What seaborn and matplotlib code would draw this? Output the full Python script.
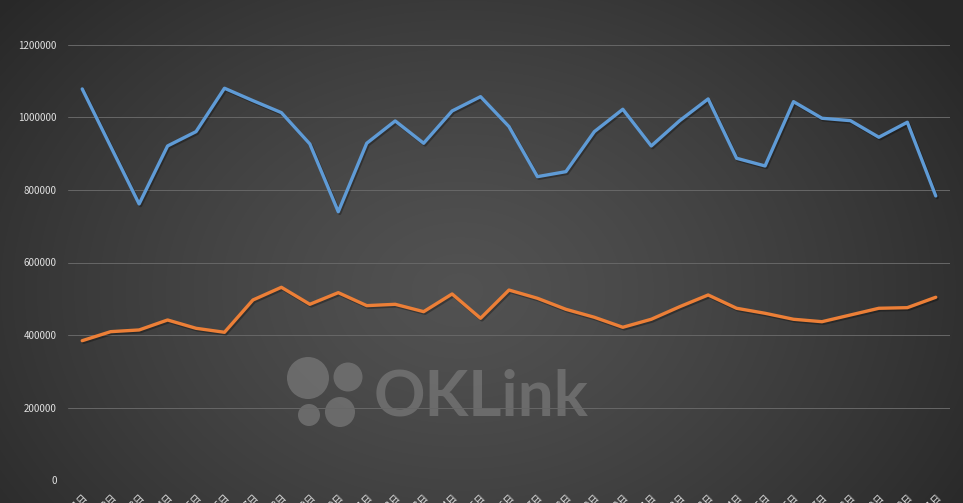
import numpy as np, pandas as pd
import matplotlib
matplotlib.use("Agg")
import matplotlib.pyplot as plt
import matplotlib.patheffects as pe
from matplotlib.patches import Circle
import seaborn as sns

# data
days = [f"1月{i}日" for i in range(1, 32)]
blue_vals = [1078800, 920000, 761500, 921500, 961000, 1080700, 1046500, 1013400, 927000, 740000,
             929000, 990500, 929000, 1018000, 1057500, 974800, 836800, 850600, 961000, 1022700,
             921500, 991300, 1051200, 887500, 866300, 1043700, 997900, 991300, 945500, 986900,
             783600]
orange_vals = [384300, 409200, 413900, 441400, 418500, 407500, 496600, 531600, 484700, 516800,
               481000, 484700, 464400, 513200, 446100, 524000, 501300, 470900, 448900, 421300,
               443400, 478100, 510400, 473700, 459900, 443400, 436700, 455200, 473700, 475400,
               504100]
y_ticks = [0, 200000, 400000, 600000, 800000, 1000000, 1200000]

df = pd.DataFrame({"day": days * 2,
                   "pos": list(range(31)) * 2,
                   "value": blue_vals + orange_vals,
                   "series": ["blue"] * 31 + ["orange"] * 31})

sns.set_style("dark")
plt.rcParams['font.family'] = ['Noto Sans CJK SC', 'DejaVu Sans']

W, H = 963, 503
fig = plt.figure(figsize=(W / 100, H / 100), dpi=100)

# background: radial grey gradient + watermark
bg = fig.add_axes([0, 0, 1, 1], zorder=0)
yy, xx = np.mgrid[0:H, 0:W]
r = np.sqrt(((xx - 460) / 560.0) ** 2 + ((yy - 290) / 420.0) ** 2)
shade = np.clip(0.32 - 0.15 * r ** 1.3, 0.16, 0.34)
bg.imshow(np.dstack([shade] * 3), extent=(0, W, H, 0), aspect="auto")
bg.set_xlim(0, W)
bg.set_ylim(H, 0)
bg.axis("off")
wm = "#777777"
for cx, cy, rr in [(308, 378, 21), (348, 377, 14.5), (309, 415, 11), (340, 412, 15)]:
    bg.add_patch(Circle((cx, cy), rr, color=wm, alpha=0.75, lw=0))
bg.text(374, 415, "OKLink", color=wm, alpha=0.75, fontsize=46, fontweight="bold",
        family="Lato", va="baseline", ha="left")

ax = fig.add_axes([68 / W, 1 - 480 / H, (950 - 68) / W, (480 - 45) / H], zorder=1)
ax.set_facecolor("none")
palette = {"blue": "#5f9bd6", "orange": "#ec7f37"}
sns.lineplot(data=df, x="pos", y="value", hue="series", palette=palette, ax=ax,
             linewidth=2.4, legend=False)
for ln in ax.lines:
    ln.set_path_effects([pe.SimpleLineShadow(offset=(1, -1.2), shadow_color="black", alpha=0.3),
                         pe.Normal()])

ax.set_xlim(-0.5, 30.5)
ax.set_ylim(0, 1200000)
ax.set_yticks(y_ticks)
ax.set_yticklabels([str(v) for v in y_ticks])
ax.set_xticks(range(31))
ax.set_xticklabels(days, rotation=45, ha="right", rotation_mode="anchor")
ax.tick_params(axis="y", length=0, pad=8, labelsize=7, labelcolor="#e0e0e0")
ax.tick_params(axis="x", length=0, pad=9, labelsize=7, labelcolor="#e0e0e0")
ax.grid(axis="y", color="#676767", linewidth=0.7)
ax.grid(axis="x", visible=False)
for s in ax.spines.values():
    s.set_visible(False)
ax.set_xlabel("")
ax.set_ylabel("")

fig.savefig("out.png", dpi=100)
